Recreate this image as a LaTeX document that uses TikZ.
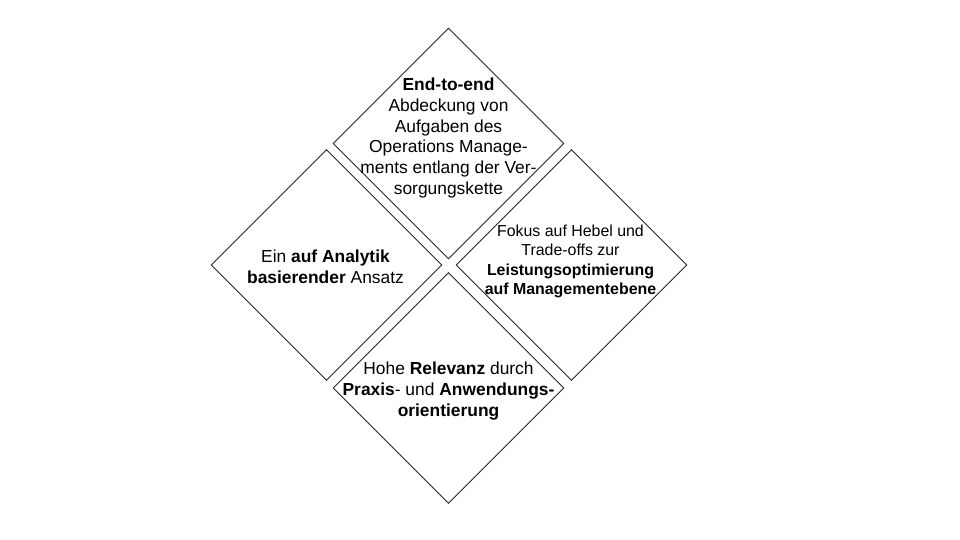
\documentclass[tikz,border=0pt]{standalone}
\usepackage{fontspec}
\setmainfont{Liberation Sans}
\usetikzlibrary{shapes.geometric,calc}

\tikzset{
	tile/.style={diamond,aspect=1,draw=black!85,line width=0.9pt,minimum size=231pt,inner sep=0pt},
	tiletext/.style={align=center,inner sep=0pt,font=\fontsize{17.4}{20.8}\selectfont},
	smalltext/.style={align=center,inner sep=0pt,font=\fontsize{15.9}{19.3}\selectfont}
}

\begin{document}
\begin{tikzpicture}[x=1pt,y=-1pt]
	\useasboundingbox (0,0) rectangle (960,540);
	% the four tiles
	\node[tile] (top) at (448.5,143.5) {};
	\node[tile] (left) at (326.5,265) {};
	\node[tile] (right) at (571.5,265) {};
	\node[tile] (bottom) at (448.5,388) {};
	% texts
	\node[tiletext] (toptext) at ($(top)+(0,-5.5)$) {\textbf{End-to-end}\\Abdeckung von\\Aufgaben des\\Operations Manage-\\ments entlang der Ver-\\sorgungskette};
	\node[tiletext] (lefttext) at ($(left)+(-1,1.5)$) {Ein \textbf{auf Analytik}\\\textbf{basierender} Ansatz};
	\node[smalltext] (righttext) at ($(right)+(-1,-3.5)$) {Fokus auf Hebel und\\Trade-offs zur\\\textbf{Leistungsoptimierung}\\\textbf{auf Managementebene}};
	\node[tiletext] (bottomtext) at ($(bottom)+(0,3)$) {Hohe \textbf{Relevanz} durch\\\textbf{Praxis}- und \textbf{Anwendungs-}\\\textbf{orientierung}};
\end{tikzpicture}
\end{document}
